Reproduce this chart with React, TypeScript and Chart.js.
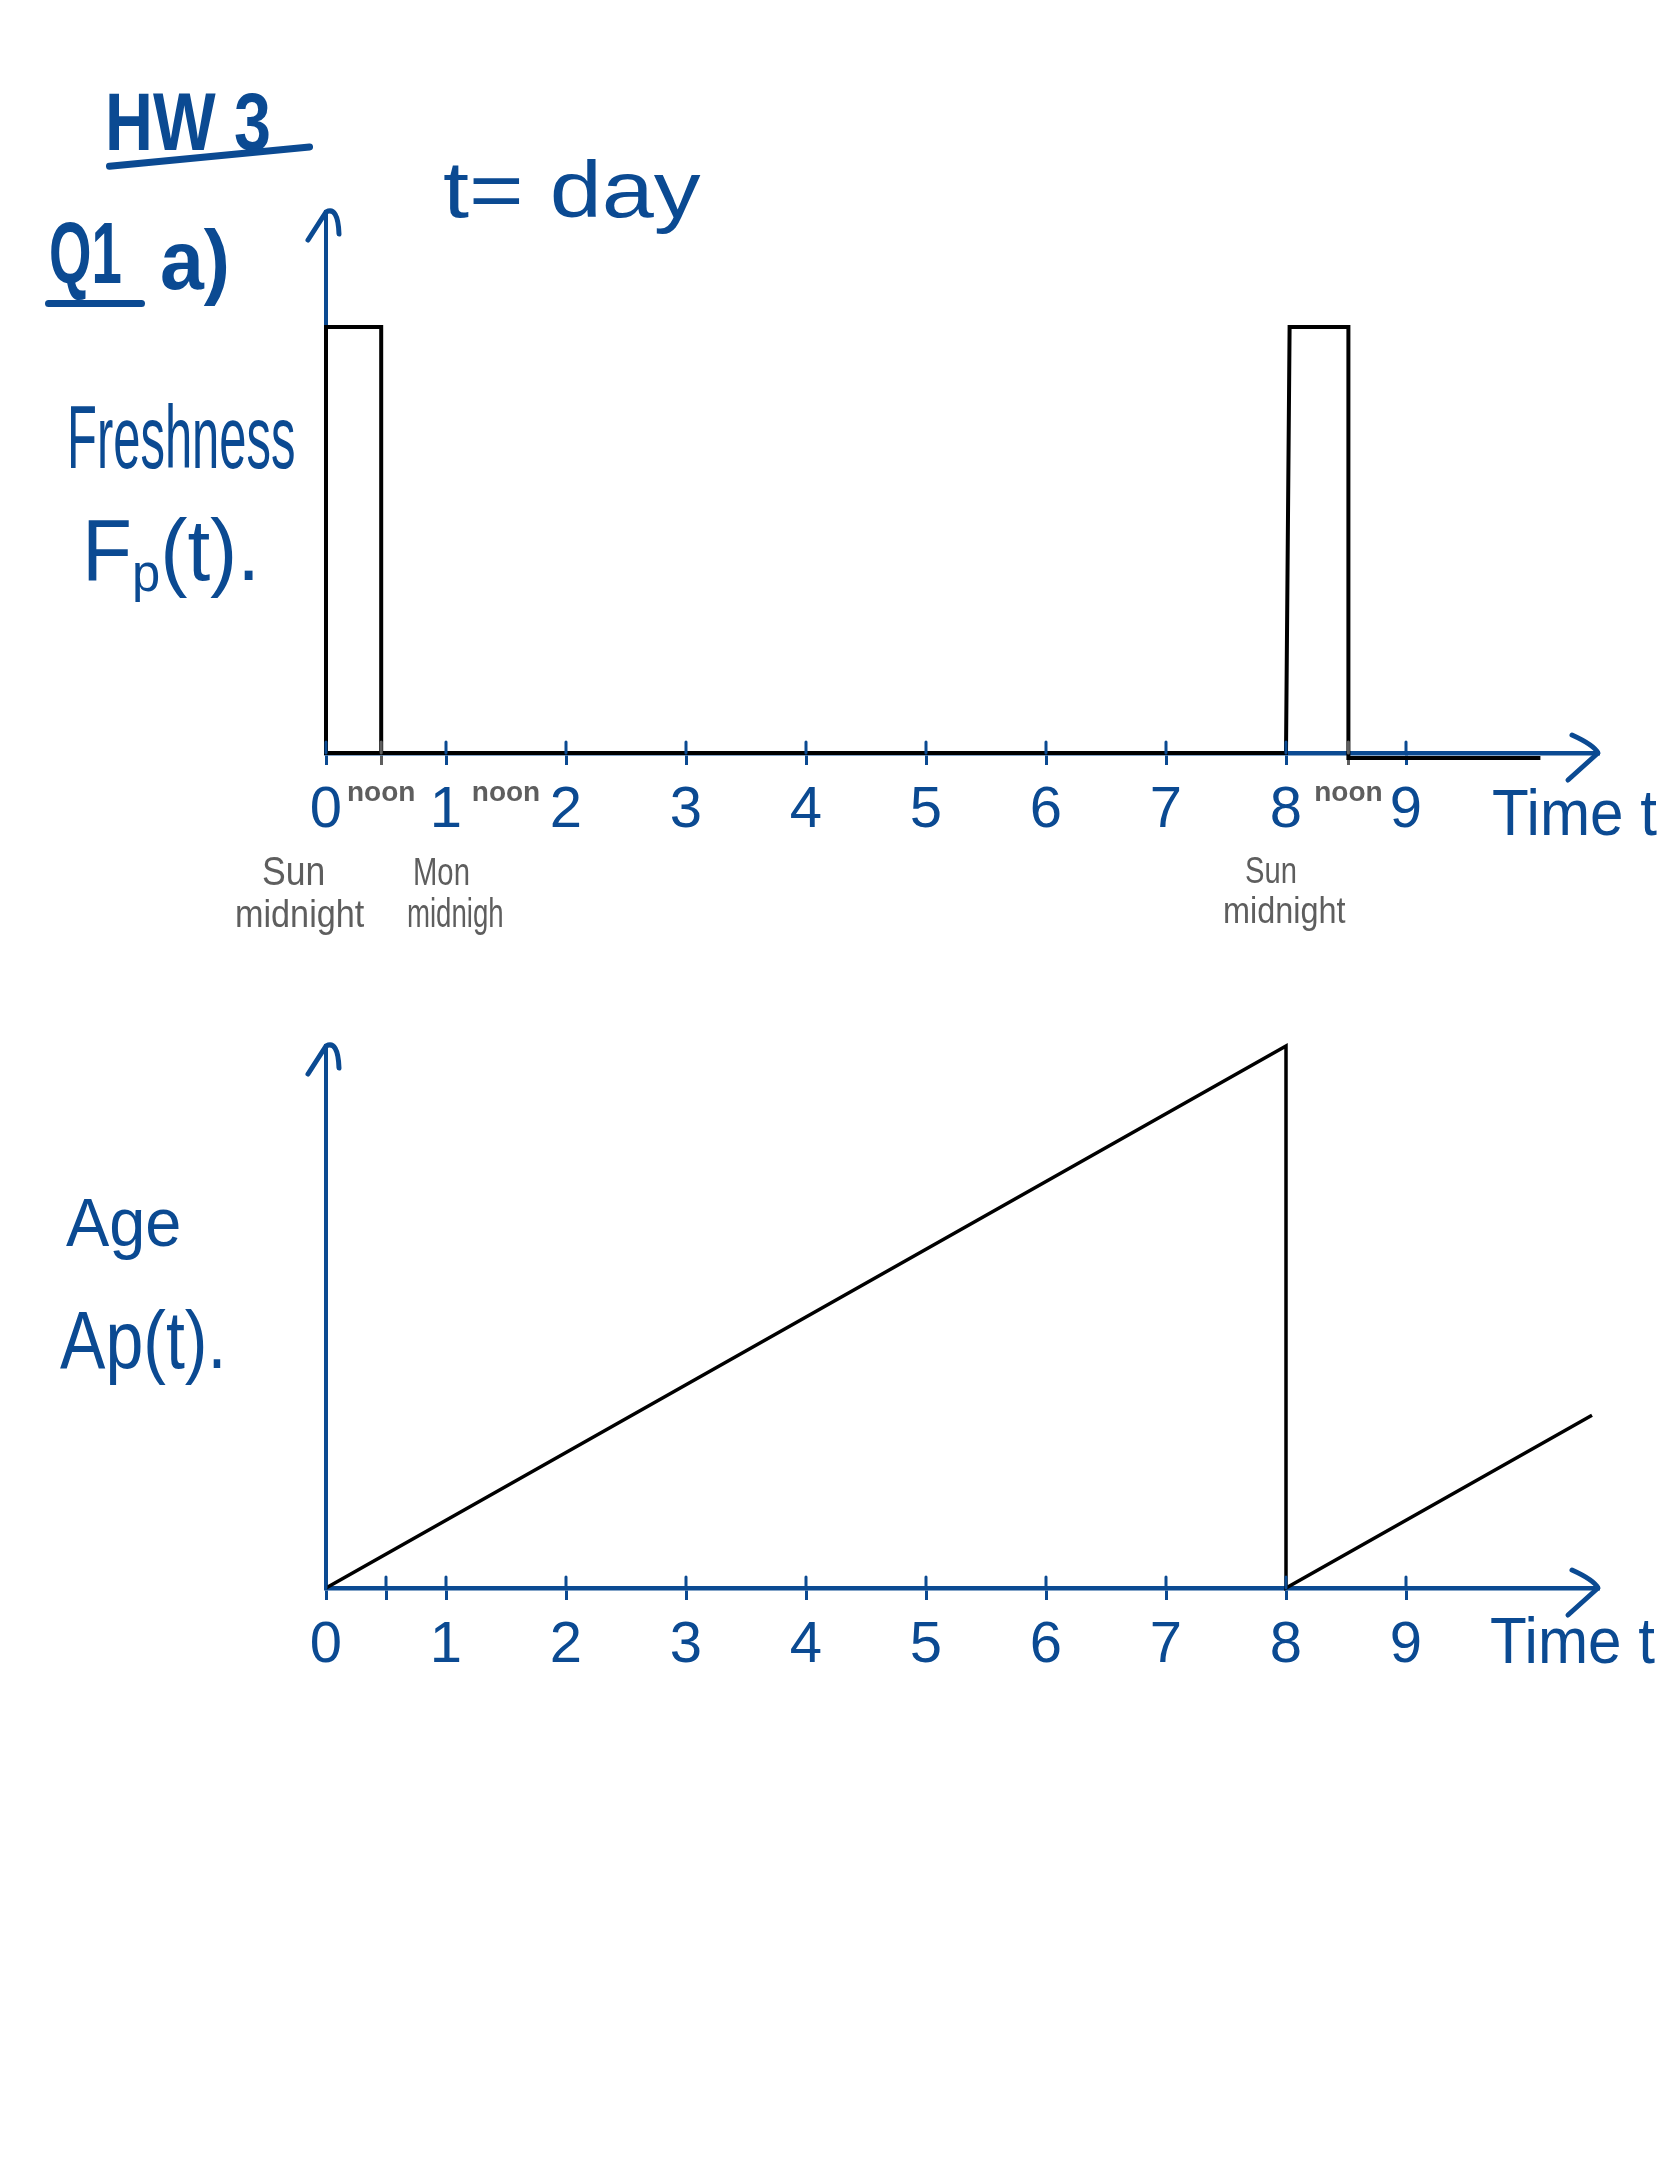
import React, { useEffect, useRef } from "react";
import { Chart, registerables } from "chart.js";

Chart.register(...registerables);

const BLUE = "#0b4a92";
const GRAY = "#5e5e5e";
const INK = "#000000";
const FONT = "'Liberation Sans', Arial, sans-serif";

// Shared time axis (days)
const X_MIN = 0;
const X_MAX = 10.6;

// Freshness F_p(t): hand-drawn trace (t in days, F level)
const freshT = [0.46, 0, 0, 0.46, 0.46, 8, 8.03, 8.52, 8.52, 10.12];
const freshF = [0, 0, 1, 1, 0, 0, 1, 1, -0.012, -0.012];
const freshMax = 1.27;

const topTickValues = [0, 0.46, 1, 1.5, 2, 3, 4, 5, 6, 7, 8, 8.52, 9];
const topTickLabels = ["0", "noon", "1", "noon", "2", "3", "4", "5", "6", "7", "8", "noon", "9"];

// Age A_p(t)
const ageT = [0, 8, 8, 10.55];
const ageA = [0, 8, 0, 2.55];
const ageMax = 8;

const bottomTickValues = [0, 0.5, 1, 2, 3, 4, 5, 6, 7, 8, 9];
const bottomTickLabels = ["0", "", "1", "2", "3", "4", "5", "6", "7", "8", "9"];

const AXIS_H = 100;

const arrowPlugin = {
  id: "handArrows",
  afterDraw(chart: any) {
    const { ctx, chartArea: a } = chart;
    const xs = chart.scales.x;
    const y0 = chart.scales.y.getPixelForValue(0);
    const x0 = xs.getPixelForValue(0);
    const labels: string[] = chart.options.plugins.handArrows.labels;
    const marked: number[] = chart.options.plugins.handArrows.marked;
    ctx.save();
    ctx.lineCap = "round";
    ctx.lineJoin = "round";
    // upper half of the hand-drawn tick marks (crossing the axis)
    xs.ticks.forEach((t: any, i: number) => {
      const lab = labels[i];
      if (lab === "noon" && !marked.includes(t.value)) return;
      const px = xs.getPixelForValue(t.value);
      ctx.strokeStyle = lab === "noon" ? GRAY : BLUE;
      ctx.lineWidth = 3;
      ctx.beginPath();
      ctx.moveTo(px, y0);
      ctx.lineTo(px, y0 - 11);
      ctx.stroke();
    });
    ctx.strokeStyle = BLUE;
    ctx.lineWidth = 5;
    // x-axis arrow head
    ctx.beginPath();
    ctx.moveTo(a.right - 26, y0 - 18);
    ctx.quadraticCurveTo(a.right - 4, y0 - 8, a.right, y0);
    ctx.lineTo(a.right - 30, y0 + 27);
    ctx.stroke();
    // y-axis arrow head
    ctx.beginPath();
    ctx.moveTo(x0 - 18, a.top + 28);
    ctx.lineTo(x0, a.top);
    ctx.quadraticCurveTo(x0 + 12, a.top - 6, x0 + 13, a.top + 22);
    ctx.stroke();
    ctx.restore();
  },
};

function buildConfig(
  xs: number[],
  ys: number[],
  yMax: number,
  tickValues: number[],
  tickLabels: string[],
  padding: any,
  lineW: number
) {
  return {
    type: "scatter",
    data: {
      datasets: [
        {
          data: xs.map((x, i) => ({ x, y: ys[i] })),
          showLine: true,
          borderColor: INK,
          borderWidth: lineW,
          pointRadius: 0,
          tension: 0,
          fill: false,
          clip: false,
          borderJoinStyle: "miter",
        },
      ],
    },
    options: {
      responsive: false,
      animation: false,
      events: [],
      layout: { padding },
      plugins: {
        legend: { display: false },
        tooltip: { enabled: false },
        title: { display: false },
        handArrows: { labels: tickLabels, marked: xs },
      },
      scales: {
        x: {
          type: "linear",
          min: X_MIN,
          max: X_MAX,
          afterBuildTicks: (s: any) => {
            s.ticks = tickValues.map((v) => ({ value: v }));
          },
          afterFit: (s: any) => {
            s.height = AXIS_H;
          },
          ticks: {
            autoSkip: false,
            maxRotation: 0,
            padding: 11,
            callback: (_v: any, i: number) => tickLabels[i],
            color: (c: any) => (tickLabels[c.index] === "noon" ? GRAY : BLUE),
            font: (c: any) =>
              tickLabels[c.index] === "noon"
                ? { family: FONT, size: 28, weight: "bold" }
                : { family: FONT, size: 58 },
          },
          grid: {
            display: true,
            drawOnChartArea: false,
            drawTicks: true,
            tickLength: 12,
            tickWidth: 3,
            lineWidth: 3,
            tickColor: (c: any) => {
              const lab = tickLabels[c.index];
              const v = tickValues[c.index];
              if (lab === "noon") return xs.includes(v) ? GRAY : "rgba(0,0,0,0)";
              return BLUE;
            },
          },
          border: { display: true, color: BLUE, width: 4.5 },
        },
        y: {
          type: "linear",
          min: 0,
          max: yMax,
          z: 1,
          afterFit: (s: any) => {
            s.width = 0;
          },
          ticks: { display: false },
          grid: { display: false, drawTicks: false },
          border: { display: true, color: BLUE, width: 4 },
        },
      },
    },
    plugins: [arrowPlugin],
  };
}

function ChartCanvas({ top, height, build }: { top: number; height: number; build: () => any }) {
  const ref = useRef<HTMLCanvasElement>(null);
  useEffect(() => {
    const chart = new Chart(ref.current as HTMLCanvasElement, build());
    return () => chart.destroy();
  }, []);
  return (
    <canvas
      ref={ref}
      width={1668}
      height={height}
      style={{ position: "absolute", left: 0, top, width: 1668, height }}
    />
  );
}

function Ink({
  x,
  capTop,
  size,
  sx = 1,
  color = BLUE,
  weight = 400,
  children,
}: {
  x: number;
  capTop: number;
  size: number;
  sx?: number;
  color?: string;
  weight?: number;
  children: any;
}) {
  return (
    <div
      style={{
        position: "absolute",
        left: x,
        top: capTop - 0.13 * size,
        fontSize: size,
        lineHeight: 1,
        fontFamily: FONT,
        fontWeight: weight,
        color,
        whiteSpace: "nowrap",
        transform: `scaleX(${sx})`,
        transformOrigin: "left top",
      }}
    >
      {children}
    </div>
  );
}

function Bar({ x, y, w, h, rot = 0 }: { x: number; y: number; w: number; h: number; rot?: number }) {
  return (
    <div
      style={{
        position: "absolute",
        left: x,
        top: y,
        width: w,
        height: h,
        background: BLUE,
        borderRadius: h / 2,
        transform: `rotate(${rot}deg)`,
        transformOrigin: "left center",
      }}
    />
  );
}

export default function App() {
  return (
    <div
      style={{
        position: "absolute",
        left: 0,
        top: 0,
        width: 1668,
        height: 2157,
        background: "#ffffff",
        overflow: "hidden",
      }}
    >
      <ChartCanvas
        top={0}
        height={1000}
        build={() =>
          buildConfig(freshT, freshF, freshMax, topTickValues, topTickLabels, {
            left: 326,
            right: 70,
            top: 212,
            bottom: 1000 - 753 - AXIS_H,
          }, 4)
        }
      />
      <ChartCanvas
        top={1000}
        height={760}
        build={() =>
          buildConfig(ageT, ageA, ageMax, bottomTickValues, bottomTickLabels, {
            left: 326,
            right: 70,
            top: 46,
            bottom: 760 - 588 - AXIS_H,
          }, 3.5)
        }
      />

      <Ink x={105} capTop={92} size={82} sx={0.81} weight={700}>HW 3</Ink>
      <Bar x={106} y={163} w={208} h={7} rot={-5.5} />
      <Ink x={49} capTop={220} size={88} sx={0.62} weight={700}>Q1</Ink>
      <Bar x={45} y={300} w={100} h={7} />
      <Ink x={160} capTop={230} size={83} sx={0.95} weight={700}>a)</Ink>
      <Ink x={443} capTop={160} size={80} sx={1.17}>t= day</Ink>

      <Ink x={67} capTop={405} size={89} sx={0.55}>Freshness</Ink>
      <Ink x={82} capTop={517} size={87} sx={0.94}>
        F<span style={{ fontSize: "0.62em", verticalAlign: "-0.2em" }}>p</span>(t).
      </Ink>
      <Ink x={66} capTop={1197} size={69} sx={0.94}>Age</Ink>
      <Ink x={60} capTop={1310} size={82} sx={0.83}>Ap(t).</Ink>

      <Ink x={1492} capTop={789} size={64} sx={0.94}>Time t</Ink>
      <Ink x={1490} capTop={1617} size={64} sx={0.94}>Time t</Ink>

      <Ink x={262} capTop={856} size={40} sx={0.89} color={GRAY}>Sun</Ink>
      <Ink x={235} capTop={900} size={38} sx={0.9} color={GRAY}>midnight</Ink>
      <Ink x={413} capTop={858} size={38} sx={0.77} color={GRAY}>Mon</Ink>
      <Ink x={407} capTop={898} size={40} sx={0.69} color={GRAY}>midnigh</Ink>
      <Ink x={1245} capTop={858} size={36} sx={0.81} color={GRAY}>Sun</Ink>
      <Ink x={1223} capTop={898} size={36} sx={0.9} color={GRAY}>midnight</Ink>
    </div>
  );
}
